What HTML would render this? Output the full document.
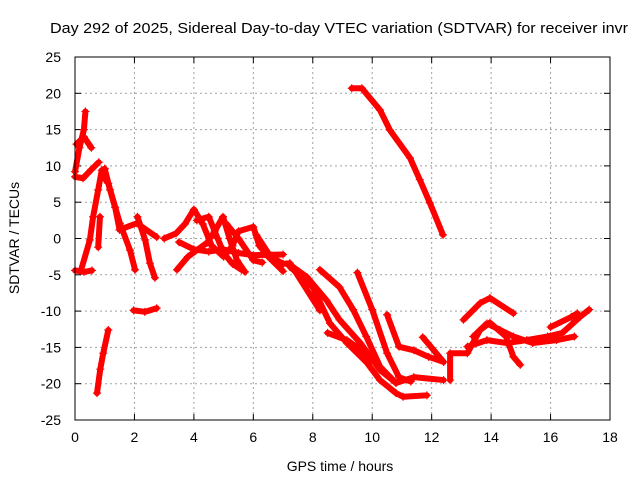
<!DOCTYPE html>
<html><head><meta charset="utf-8"><style>
body{margin:0;background:#fff}
svg{display:block;font-family:"Liberation Sans",sans-serif}
</style></head><body>
<svg id="chart" width="640" height="480">
<rect width="640" height="480" fill="#fff"/>
<text x="50" y="33" font-size="15" textLength="578" lengthAdjust="spacingAndGlyphs">Day 292 of 2025, Sidereal Day-to-day VTEC variation (SDTVAR) for receiver invr</text>
<text x="340" y="471" font-size="14" text-anchor="middle">GPS time / hours</text>
<text transform="translate(19,238) rotate(-90)" font-size="14" text-anchor="middle">SDTVAR / TECUs</text>
<g id="grid"></g><g id="ticks"></g><g id="marks"></g>
<rect x="75" y="57" width="535" height="363" fill="none" stroke="#000" stroke-width="1"/>
</svg>
<script>
const xTicks=[0,2,4,6,8,10,12,14,16,18];
const yTicks=[-25,-20,-15,-10,-5,0,5,10,15,20,25];
const tracks=[
[[9.31,20.7],[9.65,20.7],[10.26,17.7],[10.6,14.9],[11.27,11.1],[11.6,8.1],[11.94,4.9],[12.38,0.5]],
[[7.23,-3.9],[8.0,-6.7],[8.58,-11.7],[9.15,-14.4],[9.82,-17.1],[10.26,-19.5],[10.8,-21.3],[11.04,-21.8],[11.84,-21.6]],
[[8.24,-4.3],[8.9,-6.7],[9.36,-9.8],[9.8,-13.5],[10.27,-17.7],[10.8,-19.9],[11.4,-19.1],[12.4,-19.5]],
[[9.5,-4.7],[10.0,-9.8],[10.5,-15.8],[10.9,-19.1],[11.3,-19.7]],
[[10.5,-10.5],[10.9,-14.9],[11.4,-15.4],[11.9,-16.3],[12.4,-17]],
[[11.7,-13.6],[12.4,-17]],
[[8.5,-13],[9.15,-14],[9.5,-15],[9.9,-17.2]],
[[7.23,-3.6],[7.8,-5.3],[8.46,-8.5],[8.9,-11.2],[9.6,-14.4],[10.26,-18.1],[10.8,-19.9]],
[[12.62,-19.5],[12.62,-15.8],[13.2,-15.8],[13.63,-12.6],[13.96,-11.6],[14.5,-13.5],[14.75,-16.3],[14.98,-17.4]],
[[13.07,-11.2],[13.63,-8.9],[13.96,-8.2],[14.75,-10.3]],
[[13.2,-14.9],[13.86,-14],[14.53,-14.4],[15.2,-14],[15.9,-13.5],[16.4,-13],[16.99,-10.8],[17.3,-9.8]],
[[13.4,-13.5],[13.86,-11.7],[14.3,-12.6],[14.75,-13.5],[15.4,-14.4],[16.2,-14],[16.8,-13.5]],
[[16.0,-12.2],[16.7,-10.8],[16.9,-10.3]],
[[0.0,9.2],[0.15,12.5],[0.3,15],[0.35,17.5]],
[[0.05,13],[0.3,14],[0.55,12.5]],
[[0.0,8.5],[0.27,8.3],[0.55,9.5],[0.8,10.5]],
[[0.0,-4.4],[0.3,-4.6],[0.57,-4.4]],
[[0.2,-4.4],[0.5,-0.2],[0.61,3],[0.78,6.7],[0.9,9.4],[1.0,9.6]],
[[1.0,9.6],[1.18,6.7],[1.51,2.1],[1.85,-1.6],[2.02,-4.3]],
[[0.95,8.5],[1.12,7.6],[1.35,4.3],[1.5,1.2]],
[[0.84,3],[0.78,-1.2]],
[[1.5,1.2],[2.08,2.1],[2.75,0.2]],
[[2.1,3],[2.36,-0.2],[2.52,-3.4],[2.69,-5.4]],
[[1.97,-9.9],[2.35,-10.1],[2.75,-9.6]],
[[0.74,-21.3],[0.85,-18],[0.95,-15.8],[1.12,-12.6]],
[[3.0,0],[3.4,0.7],[3.7,2],[4.0,4],[4.3,2],[4.6,-1],[5.0,-2.5],[5.3,-1],[5.5,1],[6.0,1.6],[6.2,-1],[6.5,-2.5],[7.0,-4.5]],
[[3.43,-4.3],[3.8,-2.5],[4.44,-0.6],[4.7,1],[4.98,3],[5.2,0],[5.45,-3],[5.72,-4.6]],
[[3.5,-0.5],[4.0,-1.5],[4.5,-1.8],[5.0,-1.5],[5.5,-2],[6.0,-2.3],[7.0,-2.2]],
[[4.1,2.5],[4.5,3],[4.8,0],[5.0,-2],[5.3,-3.5],[5.6,-4.3]],
[[5.1,2],[5.5,0],[6.0,-3],[6.3,-3.3]],
[[6.1,0.5],[6.5,-2],[6.8,-3],[7.0,-3.5]],
[[7.0,-3.5],[7.23,-3.4],[8.24,-9.9]]
];
const NS='http://www.w3.org/2000/svg';
const X0=75,X1=610,Y0=420,Y1=57;
function xs(h){return X0+(h-0)/(18-0)*(X1-X0);}
function ys(v){return Y0-(v+25)/50*(Y0-Y1);}
const grid=document.getElementById('grid'),ticks=document.getElementById('ticks'),marks=document.getElementById('marks');
function mk(tag,attrs,parent){const e=document.createElementNS(NS,tag);for(const k in attrs)e.setAttribute(k,attrs[k]);parent.appendChild(e);return e;}
xTicks.forEach(t=>{const x=xs(t);
 if(t>0&&t<18){const g=mk('line',{x1:x,x2:x,y1:Y1,y2:Y0,stroke:'#a0a0a0','stroke-dasharray':'2,3'},grid);
 
 }
 const l=mk('line',{x1:x,x2:x,y1:Y0,y2:Y0-6,stroke:'#000'},ticks);
 
 
 const l2=mk('line',{x1:x,x2:x,y1:Y1,y2:Y1+6,stroke:'#000'},ticks);
 
 
 const tx=mk('text',{x:x,y:442,'font-size':14,'text-anchor':'middle'},ticks);tx.textContent=t;
 
 });
yTicks.forEach(t=>{const y=ys(t);
 if(t>-25&&t<25){const g=mk('line',{x1:X0,x2:X1,y1:y,y2:y,stroke:'#a0a0a0','stroke-dasharray':'2,3'},grid);
 
 }
 const l=mk('line',{x1:X0,x2:X0+6,y1:y,y2:y,stroke:'#000'},ticks);
 
 
 const l2=mk('line',{x1:X1,x2:X1-6,y1:y,y2:y,stroke:'#000'},ticks);
 
 
 const tx=mk('text',{x:61,y:y+5,'font-size':14,'text-anchor':'end'},ticks);tx.textContent=t;
 
 });
tracks.forEach(tr=>{
 const p=mk('polyline',{points:tr.map(d=>xs(d[0])+','+ys(d[1])).join(' '),fill:'none',stroke:'#ff0000','stroke-width':6,'stroke-linejoin':'round','stroke-linecap':'round'},marks);
 
 
 tr.forEach(d=>{const x=xs(d[0]),y=ys(d[1]);
  const m=mk('path',{d:`M${x-4},${y}H${x+4}M${x},${y-4}V${y+4}`,stroke:'#ff0000','stroke-width':1.2},marks);
  
  });
});
</script>
</body></html>
